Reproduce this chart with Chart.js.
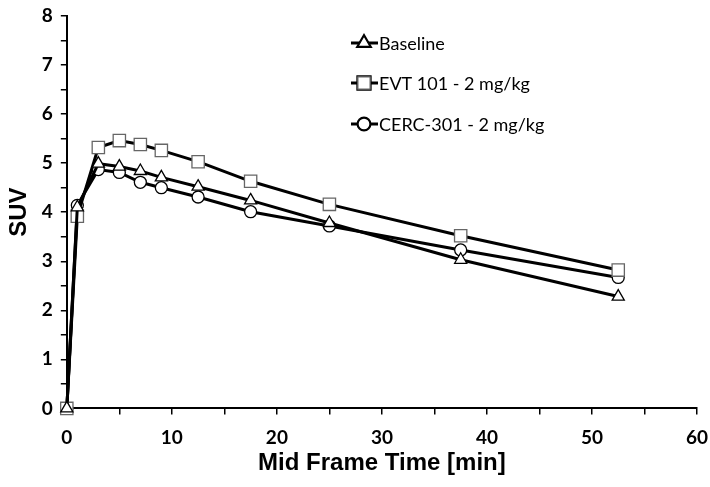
<!DOCTYPE html>
<html>
<head>
<meta charset="utf-8">
<script src="https://cdn.jsdelivr.net/npm/chart.js@4"></script>
<style>
  html, body { margin: 0; padding: 0; background: #fff; }
  #wrap { width: 710px; height: 487px; }
</style>
</head>
<body>
<div id="wrap"><canvas id="suv-chart" width="710" height="487"></canvas></div>
<script>
// frame mid times in minutes
const frameTimes = [0, 1, 3, 5, 7, 9, 12.5, 17.5, 25, 37.5, 52.5];

const seriesNames = ['Baseline', 'EVT 101 - 2 mg/kg', 'CERC-301 - 2 mg/kg'];
const baselineSuv = [0, 4.1, 4.99, 4.93, 4.84, 4.71, 4.52, 4.24, 3.78, 3.03, 2.28];
const evtSuv      = [0, 3.92, 5.32, 5.46, 5.38, 5.26, 5.03, 4.63, 4.16, 3.52, 2.82];
const cercSuv     = [0, 4.14, 4.87, 4.81, 4.61, 4.50, 4.31, 4.01, 3.72, 3.23, 2.67];

const xTicks = [0, 10, 20, 30, 40, 50, 60];
const yTicks = [0, 1, 2, 3, 4, 5, 6, 7, 8];

const tickFont = { family: 'Lato, "Open Sans", sans-serif', size: 19, weight: 'bold' };
const titleFont = { family: '"Liberation Sans", Arial, sans-serif', size: 24, weight: 'bold' };

function toPoints(values) {
    return frameTimes.map((t, i) => ({ x: t, y: values[i] }));
}

function makeDataset(label, values, style, radius, border) {
    return {
        label: label,
        data: toPoints(values),
        borderColor: '#000',
        borderWidth: 3,
        pointStyle: style,
        pointRadius: radius,
        pointBackgroundColor: '#fff',
        pointBorderColor: border,
        pointBorderWidth: 1.3,
        tension: 0,
        clip: false
    };
}

// legend drawn inside the plot, Excel style
const insideLegend = {
    id: 'insideLegend',
    afterDatasetsDraw(chart) {
        const ctx = chart.ctx;
        const left = 351;
        const rows = [43, 83, 124];
        chart.data.datasets.forEach((ds, i) => {
            const y = rows[i];
            ctx.save();
            ctx.strokeStyle = '#000';
            ctx.lineWidth = 3;
            ctx.beginPath();
            ctx.moveTo(left, y);
            ctx.lineTo(left + 27, y);
            ctx.stroke();
            Chart.helpers.drawPoint(ctx, {
                pointStyle: ds.pointStyle,
                radius: ds.pointRadius,
                borderWidth: ds.pointBorderWidth
            }, left + 13, y);
            ctx.fillStyle = '#fff';
            ctx.strokeStyle = ds.pointBorderColor;
            ctx.lineWidth = ds.pointBorderWidth;
            ctx.fill();
            ctx.stroke();
            ctx.fillStyle = '#000';
            ctx.font = '18px Lato, "Open Sans", sans-serif';
            ctx.textBaseline = 'middle';
            ctx.fillText(ds.label, left + 28, y + 1);
            ctx.restore();
        });
    }
};

const ctx = document.querySelector('#suv-chart').getContext('2d');

new Chart(ctx, {
    type: 'line',
    data: {
        datasets: [
            makeDataset(seriesNames[0], baselineSuv, 'triangle', 7, '#000'),
            makeDataset(seriesNames[1], evtSuv, 'rect', 8.7, '#666'),
            makeDataset(seriesNames[2], cercSuv, 'circle', 6, '#000')
        ]
    },
    options: {
        responsive: false,
        animation: false,
        layout: { padding: { top: 16, right: 13, bottom: 19, left: 5 } },
        plugins: {
            legend: { display: false },
            tooltip: { enabled: false }
        },
        scales: {
            x: {
                type: 'linear',
                min: xTicks[0],
                max: xTicks[xTicks.length - 1],
                border: { display: true, color: '#000', width: 2 },
                grid: { drawOnChartArea: false, drawTicks: true, tickLength: 6, color: '#000', lineWidth: 1.5 },
                ticks: {
                    stepSize: 5,
                    autoSkip: false,
                    color: '#000',
                    font: tickFont,
                    padding: 12,
                    maxRotation: 0,
                    callback: v => xTicks.includes(v) ? String(v) : ''
                },
                afterFit: scale => { scale.paddingRight = 0; },
                title: { display: true, text: 'Mid Frame Time [min]', color: '#000', font: { ...titleFont, lineHeight: 0.2 }, padding: { top: 0, bottom: 2 } }
            },
            y: {
                min: yTicks[0],
                max: yTicks[yTicks.length - 1],
                border: { display: true, color: '#000', width: 2 },
                grid: { drawOnChartArea: false, drawTicks: true, tickLength: 6, color: '#000', lineWidth: 1.5 },
                ticks: {
                    stepSize: 0.5,
                    autoSkip: false,
                    color: '#000',
                    font: tickFont,
                    padding: 8,
                    callback: v => yTicks.includes(v) ? String(v) : ''
                },
                afterFit: scale => { scale.paddingTop = 0; },
                title: { display: true, text: 'SUV', color: '#000', font: titleFont, padding: { top: 0, bottom: 0 } }
            }
        }
    },
    plugins: [insideLegend]
});
</script>
</body>
</html>
